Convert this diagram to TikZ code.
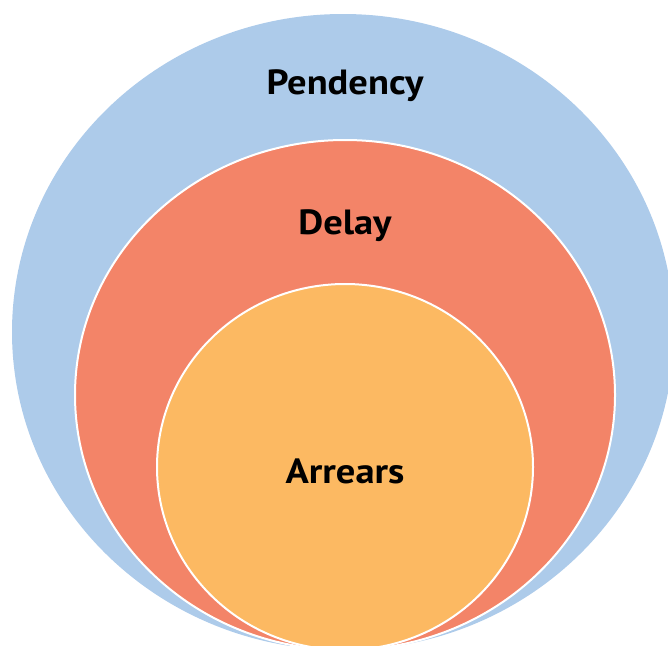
\documentclass[tikz,border=0pt]{standalone}
\usepackage{fontspec}
\setmainfont{PT Sans}
\newfontfamily\ringfont[FakeStretch=1.1]{PT Sans}
\usepackage{tikz}

\definecolor{pendency}{RGB}{173,203,234}
\definecolor{delay}{RGB}{243,132,104}
\definecolor{arrears}{RGB}{252,185,98}

\begin{document}
\begin{tikzpicture}[x=1pt,y=-1pt,
        ring/.style={draw=white,line width=2pt},
        ringlabel/.style={font=\ringfont\bfseries\fontsize{35}{40}\selectfont,text=black}]
    \useasboundingbox (0,0) rectangle (668,645);
    \clip (0,0) rectangle (668,645);
    % nested rings, all touching at the bottom
    \fill [pendency] (343,332) ellipse [x radius=331pt, y radius=318pt];
    \draw [ring,fill=delay] (345,395) ellipse [x radius=270pt, y radius=255pt];
    \draw [ring,fill=arrears] (345,467) ellipse [x radius=188pt, y radius=183pt];
    % labels
    \node [ringlabel] (pendency) at (345,86) {Pendency};
    \node [ringlabel] (delay) at (345,226) {Delay};
    \node [ringlabel] (arrears) at (345,471) {Arrears};
\end{tikzpicture}
\end{document}
